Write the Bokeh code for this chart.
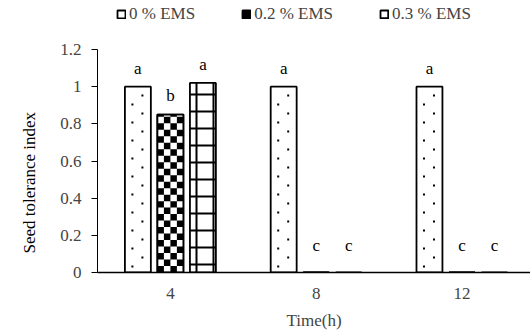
import numpy as np
from bokeh.plotting import figure
from bokeh.models import (ColumnDataSource, Range1d, FixedTicker, Legend, LegendItem,
                          Title)
from bokeh.core.properties import value
from bokeh.embed import file_html
from bokeh.resources import INLINE

# ---- data ----
categories = ["4", "8", "12"]
series_names = ["0 % EMS", "0.2 % EMS", "0.3 % EMS"]
ems_0 = [1.0, 1.0, 1.0]
ems_02 = [0.85, 0.0, 0.0]
ems_03 = [1.02, 0.0, 0.0]
letters_0 = ["a", "a", "a"]
letters_02 = ["b", "c", "c"]
letters_03 = ["a", "c", "c"]
y_ticks = [0, 0.2, 0.4, 0.6, 0.8, 1.0, 1.2]
y_tick_labels = ["0", "0.2", "0.4", "0.6", "0.8", "1", "1.2"]

FONT = "Liberation Serif"
FS = "17px"

W, H = 530, 334
BL, BR, BT, BB = 97, 0, 0, 62
AXIS_TOP_PX = 49            # where 1.2 sits on screen
X_END = 2.97
Y_MAX = y_ticks[-1]
frame_h = H - BT - BB
Y_END = Y_MAX * frame_h / (frame_h - AXIS_TOP_PX)
x_center = [i + 0.5 for i in range(len(categories))]
offsets = [-0.223, 0.0, 0.223]
bar_w = 0.178

p = figure(width=W, height=H, output_backend="svg", toolbar_location=None,
           x_range=Range1d(0, X_END), y_range=Range1d(0, Y_END),
           min_border_left=BL, min_border_right=BR, min_border_top=BT,
           min_border_bottom=BB)
p.title = None
p.outline_line_color = None
p.grid.visible = False
p.background_fill_color = "white"
p.border_fill_color = "white"

px_x = (W - BL - BR) / X_END
px_y = frame_h / Y_END


def dot_pattern(xs, vals):
    """staggered small dots inside each bar (pattern derived from bar extents)"""
    dx, dy = [], []
    for x, v in zip(xs, vals):
        if v <= 0:
            continue
        x0 = x - bar_w / 2
        ntop = v * px_y
        r = 0
        yp = 6.0
        while yp < ntop - 3:
            off = 7.5 if r % 2 == 0 else 17.5
            dx.append(x0 + off / px_x)
            dy.append(yp / px_y)
            yp += 9.0
            r += 1
    return dx, dy


def checker_pattern(xs, vals):
    cell_dx = bar_w / 4
    cell_dy = (bar_w * px_x / 4) / px_y
    L, R, B, T = [], [], [], []
    for x, v in zip(xs, vals):
        if v <= 0:
            continue
        x0 = x - bar_w / 2
        nrows = int(np.ceil(v / cell_dy))
        for ri in range(nrows):
            for ci in range(4):
                if (ri + ci) % 2 == 1:
                    L.append(x0 + ci * cell_dx)
                    R.append(x0 + (ci + 1) * cell_dx)
                    B.append(ri * cell_dy)
                    T.append(min((ri + 1) * cell_dy, v))
    return L, R, B, T


styles = [
    dict(fill_color="white"),
    dict(fill_color="black"),
    dict(fill_color="white", hatch_pattern="cross", hatch_scale=17, hatch_weight=2),
]
series = [(ems_0, letters_0), (ems_02, letters_02), (ems_03, letters_03)]
items = []
for k, (vals, letters) in enumerate(series):
    xs = [c + offsets[k] for c in x_center]
    ly = [v + 0.1 if v > 0 else 0.145 for v in vals]
    src = ColumnDataSource(dict(x=xs, top=vals, ly=ly, txt=letters))
    r = p.vbar(x="x", top="top", width=bar_w, bottom=0, source=src,
               line_color="black", line_width=1.8, hatch_color="black",
               **styles[k])
    if k == 0:
        dx, dy = dot_pattern(xs, vals)
        p.scatter(x=dx, y=dy, marker="square", size=2, fill_color="black",
                  line_color=None)
    if k == 1:
        L, R, B, T = checker_pattern(xs, vals)
        p.quad(left=L, right=R, bottom=B, top=T, fill_color="white", line_color=None)
        p.vbar(x="x", top="top", width=bar_w, bottom=0, source=src,
               fill_color=None, line_color="black", line_width=1.8)
    p.text(x="x", y="ly", text="txt", source=src, text_font=value(FONT),
           text_font_size=FS, text_align="center", text_baseline="middle",
           text_color="black")
    items.append(LegendItem(label=series_names[k], renderers=[r]))

legend = Legend(items=items, orientation="horizontal", location=(19, frame_h - 24),
                padding=0, margin=0, spacing=46, glyph_width=10, glyph_height=10,
                label_standoff=3, label_text_font=FONT, label_text_font_size=FS,
                background_fill_alpha=0, border_line_color=None)
p.add_layout(legend)

# y axis
ya = p.yaxis[0]
ya.ticker = FixedTicker(ticks=y_ticks)
ya.bounds = (0, Y_MAX)
ya.major_label_overrides = {t: l for t, l in zip(y_ticks, y_tick_labels)}
ya.minor_tick_line_color = None
ya.major_tick_in = 0
ya.major_tick_out = 6
ya.major_label_standoff = 10
ya.major_label_text_font = FONT
ya.major_label_text_font_size = FS
ya.axis_line_color = "black"
ya.major_tick_line_color = "black"

ytitle = Title(text="Seed tolerance index", align="left", offset=19, standoff=34,
               vertical_align="top",
               text_font=FONT, text_font_style="normal", text_font_size=FS,
               text_color="black")
p.add_layout(ytitle, "left")

# x axis
xa = p.xaxis[0]
xa.ticker = FixedTicker(ticks=x_center)
xa.major_label_overrides = {c: l for c, l in zip(x_center, categories)}
xa.minor_tick_line_color = None
xa.major_tick_line_color = None
xa.major_tick_in = 0
xa.major_tick_out = 0
xa.major_label_standoff = 15
xa.axis_label = "Time(h)"
xa.axis_label_standoff = 9
xa.axis_label_text_font = FONT
xa.axis_label_text_font_style = "normal"
xa.axis_label_text_font_size = FS
xa.major_label_text_font = FONT
xa.major_label_text_font_size = FS
xa.axis_line_color = "black"
xa.axis_line_width = 1.5

open("out.html", "w").write(file_html(p, INLINE))
